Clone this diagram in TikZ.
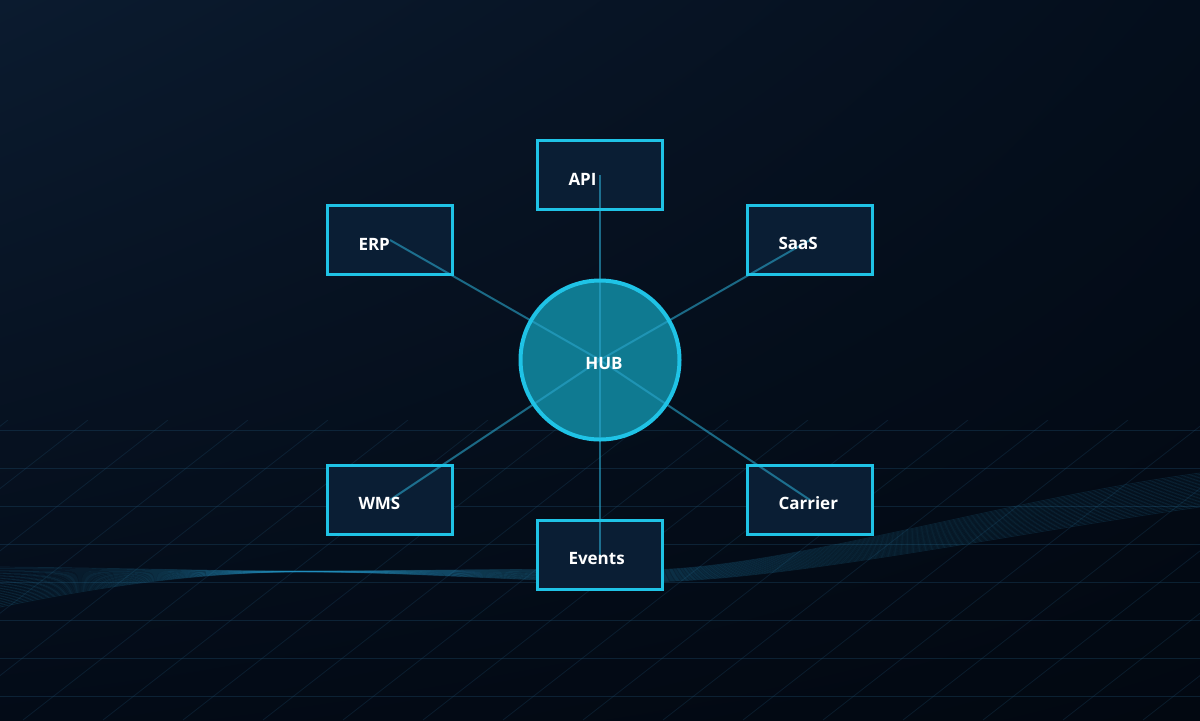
\documentclass[tikz,border=0pt]{standalone}
\usepackage{fontspec}
\setmainfont{Open Sans}
\usetikzlibrary{positioning,shadings}
\definecolor{bgtl}{HTML}{0B1B2F}
\definecolor{bgtr}{HTML}{040E1C}
\definecolor{bgbl}{HTML}{030B17}
\definecolor{bgbr}{HTML}{020811}
\definecolor{neon}{HTML}{1FC3E6}
\definecolor{hubteal}{HTML}{0F7A91}
\definecolor{boxfill}{HTML}{0A1E34}
\definecolor{spoke}{HTML}{2AA6CC}
\definecolor{gridblue}{HTML}{1E4E6E}
\definecolor{wave}{HTML}{2A9FD0}
\pgfdeclarelayer{bg}
\pgfdeclarelayer{edges}
\pgfsetlayers{bg,edges,main}
\tikzset{%
    sysbox/.style={%
        draw=neon, line width=1.5pt,
        minimum width=62.5pt, minimum height=34.5pt,
        inner xsep=15.5pt, text width=31.5pt, align=left, text height=1em,
        text=white, font=\fontsize{8.5}{10}\selectfont\bfseries
    },
    hubnode/.style={%
        circle, draw=neon, line width=2pt, minimum size=79.5pt, text height=1em,
        text=white, font=\fontsize{8.5}{10}\selectfont\bfseries
    },
    spokeline/.style={spoke, opacity=0.6, line width=1pt},
    gridline/.style={gridblue, opacity=0.35, line width=0.5pt},
    diagline/.style={gridblue, opacity=0.28, line width=0.4pt},
    waveline/.style={wave, opacity=0.16, line width=0.35pt}
}

\begin{document}
\begin{tikzpicture}[x=0.5pt,y=-0.5pt]
	\useasboundingbox (0,0) rectangle (1200,720);

	% backdrop, grid and wave
	\begin{pgfonlayer}{bg}
	\shade[upper left=bgtl, upper right=bgtr, lower left=bgbl, lower right=bgbr]
		(0,0) rectangle (1200,720);
	\foreach \y in {430,468,...,700}
		\draw[gridline] (0,\y) -- (1200,\y);
	\begin{scope}
		\clip (0,420) rectangle (1200,720);
		\foreach \x in {-377,-297,...,1200}
			\draw[diagline] (\x,720) -- ++(385,-300);
	\end{scope}
	\foreach \i in {0,...,24} {
		\pgfmathsetmacro\t{\i/24}
		\draw[waveline] (0,{567+40*\t})
			.. controls (120,{568+14*\t}) and (220,{571+\t}) .. (300,{571+\t})
			.. controls (420,{571+\t}) and (520,{568+14*\t}) .. (640,{570+12*\t})
			.. controls (780,{570+12*\t}) and (1000,{500+35*\t}) .. (1200,{473+34*\t});
	}
	\end{pgfonlayer}

	\node[hubnode] (hub) at (600,360) {\hspace{4pt}HUB};

	\node[sysbox] (api) at (600,175) {API};
	\node[sysbox] (erp) at (390,240) {ERP};
	\node[sysbox] (saas) at (810,240) {SaaS};
	\node[sysbox] (wms) at (390,500) {WMS};
	\node[sysbox] (carrier) at (810,500) {Carrier};
	\node[sysbox] (events) at (600,555) {Events};

	% fills under the spokes
	\begin{pgfonlayer}{bg}
	\foreach \n in {api,erp,saas,wms,carrier,events}
		\fill[boxfill] (\n.south west) rectangle (\n.north east);
	\fill[hubteal] (hub.center) circle[radius=39.75pt];
	\end{pgfonlayer}

	\begin{pgfonlayer}{edges}
	\draw[spokeline] (hub.center) -- (api.center);
	\draw[spokeline] (hub.center) -- (erp.center);
	\draw[spokeline] (hub.center) -- (saas.center);
	\draw[spokeline] (hub.center) -- (wms.center);
	\draw[spokeline] (hub.center) -- (carrier.center);
	\draw[spokeline] (hub.center) -- (events.center);
	\end{pgfonlayer}
\end{tikzpicture}
\end{document}
